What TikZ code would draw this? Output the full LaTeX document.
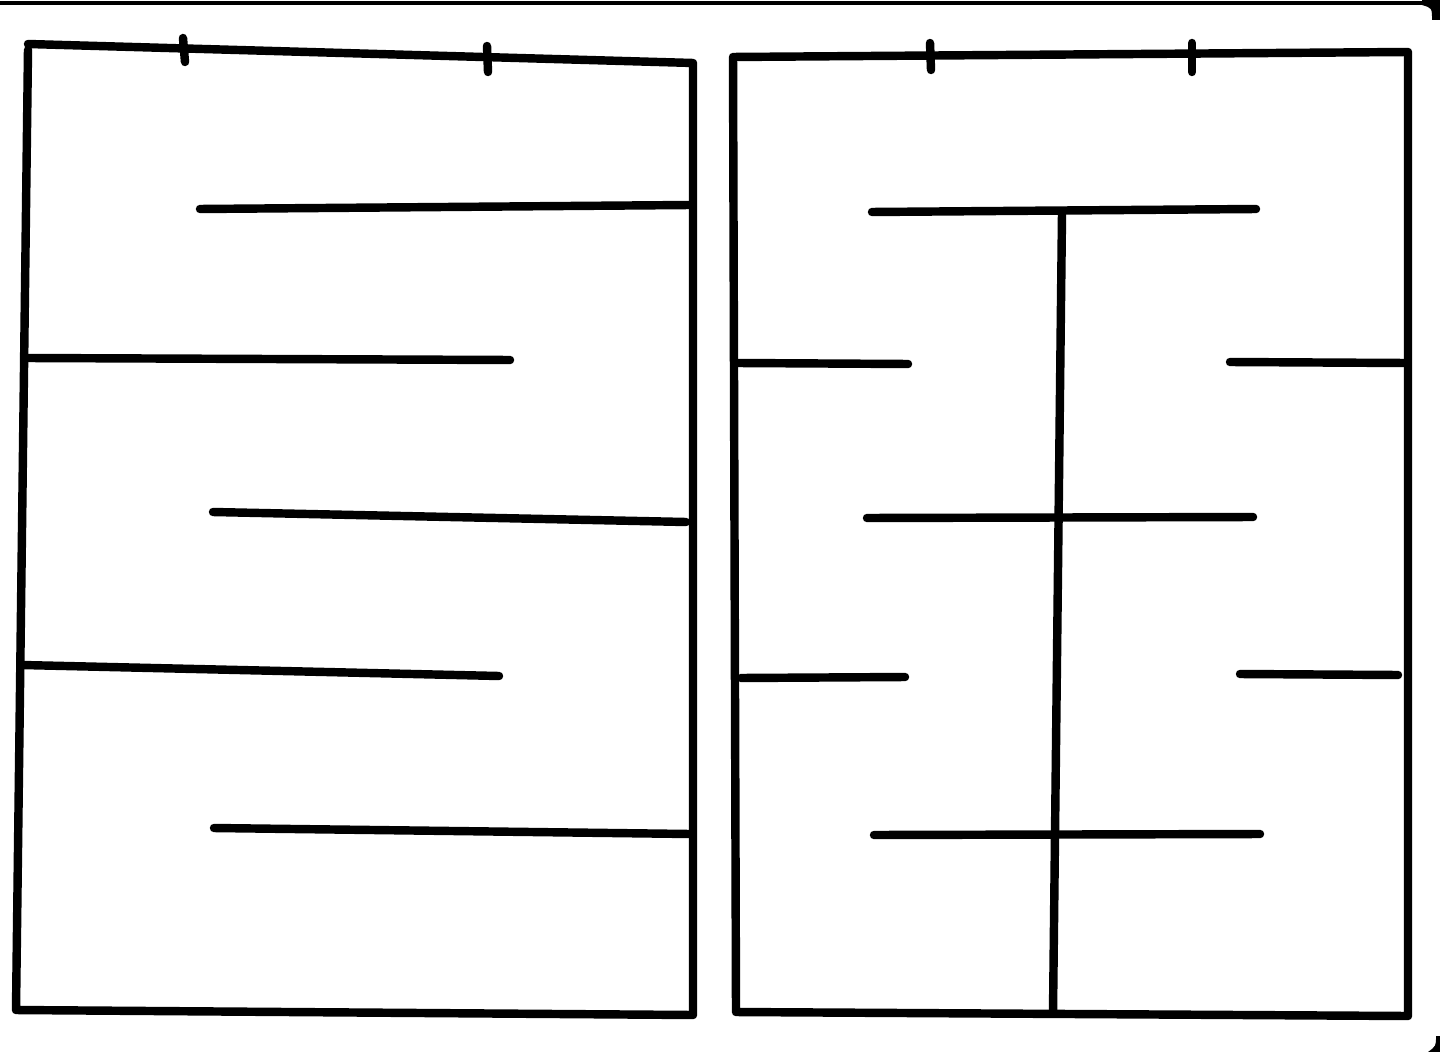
\documentclass[tikz,border=0pt]{standalone}
\usetikzlibrary{positioning}
\tikzset{wall/.style={line width=2.4pt, line cap=round, line join=round},
  tick/.style={line width=2.4pt, line cap=round}}
\begin{document}
\begin{tikzpicture}[x=0.01cm,y=-0.01cm]
		\useasboundingbox (0,0) rectangle (1440,1052);
		% scan edges
		\draw[line width=1.2pt] (0,3) -- (1422,3);
		\fill (1422,0) -- (1440,0) -- (1440,20) -- (1432,20) .. controls (1432,8) .. (1422,5) -- cycle;
		\fill (1440,1036) -- (1440,1052) -- (1428,1052) .. controls (1436,1046) .. (1436,1036) -- cycle;
		% left maze
		\draw[wall] (28,44) -- (693,63) -- (693,1015) -- (16,1010) -- (28,50);
		\draw[tick] (183,38) -- (185,62);
		\draw[tick] (487,46) -- (488,72);
		\draw[wall] (200,209) -- (690,205);
		\draw[wall] (28,358) -- (510,360);
		\draw[wall] (213,512) -- (686,522);
		\draw[wall] (22,665) -- (499,676);
		\draw[wall] (214,828) -- (690,834);
		% right maze
		\draw[wall] (733,57) -- (1408,52) -- (1408,1016) -- (736,1012) -- cycle;
		\draw[tick] (930,43) -- (931,70);
		\draw[tick] (1192,43) -- (1192,72);
		\draw[wall] (872,212) -- (1256,209);
		\draw[wall] (1062,213) -- (1053,1012);
		\draw[wall] (738,363) -- (908,364);
		\draw[wall] (1230,362) -- (1405,363);
		\draw[wall] (867,518) -- (1253,517);
		\draw[wall] (741,678) -- (905,677);
		\draw[wall] (1240,674) -- (1398,675);
		\draw[wall] (874,835) -- (1260,834);
	\end{tikzpicture}
\end{document}
